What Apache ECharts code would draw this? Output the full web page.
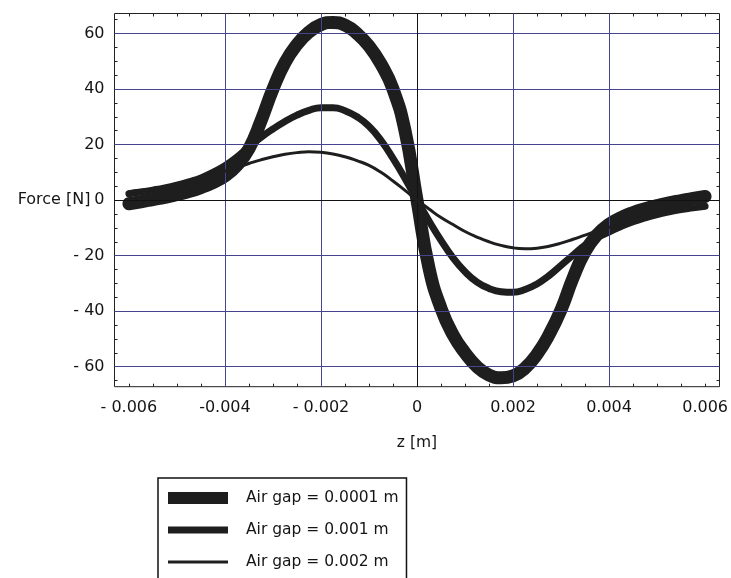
<!DOCTYPE html>
<html>
<head>
<meta charset="utf-8">
<script src="https://cdn.jsdelivr.net/npm/echarts@6/dist/echarts.min.js"></script>
<style>
html, body { margin: 0; padding: 0; background: #fff; }
#main { width: 731px; height: 578px; }
</style>
</head>
<body>
<div id="main"></div>
<script>
// z positions [m]
var zValues = [
  -0.006, -0.00575, -0.0055, -0.00525, -0.005, -0.00475, -0.0045, -0.00425,
  -0.004, -0.00375, -0.0035, -0.00325, -0.003, -0.00275, -0.0025, -0.00225,
  -0.002, -0.00175, -0.0015, -0.00125, -0.001, -0.00075, -0.0005, -0.00025,
  0,
  0.00025, 0.0005, 0.00075, 0.001, 0.00125, 0.0015, 0.00175, 0.002,
  0.00225, 0.0025, 0.00275, 0.003, 0.00325, 0.0035, 0.00375, 0.004,
  0.00425, 0.0045, 0.00475, 0.005, 0.00525, 0.0055, 0.00575, 0.006
];
// force [N], air gap 0.0001 m
var forceGap0001 = [
  -1.3, -0.6, 0.2, 1.0, 2.0, 3.1, 4.5, 6.3,
  8.7, 12.5, 18.5, 28.5, 40, 49.5, 56, 60.5,
  63.2, 64.0, 63.0, 60, 55.5, 49, 40, 25,
  0,
  -24.5, -39, -48.5, -55, -60, -63, -64.0, -63.3,
  -60.5, -55.5, -48.5, -39.5, -28, -18.5, -12.5, -8.7,
  -6.3, -4.5, -3.1, -2.0, -1.0, -0.2, 0.6, 1.3
];
// force [N], air gap 0.001 m
var forceGap001 = [
  2.3, 2.9, 3.6, 4.4, 5.4, 6.6, 8.0, 10.0,
  12.4, 15.5, 19.2, 22.6, 25.6, 28.3, 30.6, 32.3,
  33.3, 33.3, 32.2, 30.0, 26.6, 21.5, 15.0, 7.8,
  0,
  -7.5, -14.5, -20.8, -25.8, -29.5, -31.8, -33.0, -33.2,
  -32.2, -30.2, -27.2, -23.5, -19.8, -16.2, -13.5, -11.5,
  -9.5, -7.8, -6.4, -5.2, -4.2, -3.4, -2.8, -2.2
];
// force [N], air gap 0.002 m
var forceGap002 = [
  3.0, 3.5, 4.0, 4.7, 5.5, 6.5, 7.7, 9.0,
  10.4, 11.8, 13.2, 14.5, 15.6, 16.5, 17.1, 17.4,
  17.2, 16.6, 15.6, 14.2, 12.5, 10.0, 6.9, 3.5,
  0,
  -3.2, -6.3, -8.8, -11.3, -13.3, -15.0, -16.3, -17.2,
  -17.5, -17.3, -16.6, -15.5, -14.1, -12.6, -11.1, -9.8,
  -8.5, -7.3, -6.2, -5.3, -4.5, -3.8, -3.2, -2.7
];
var seriesNames = ['Air gap = 0.0001 m', 'Air gap = 0.001 m', 'Air gap = 0.002 m'];

var xTickValues = [-0.006, -0.004, -0.002, 0, 0.002, 0.004, 0.006];
var xTickLabels = ['- 0.006', '-0.004', '- 0.002', '0', '0.002', '0.004', '0.006'];
var xGridValues = [-0.004, -0.002, 0.002, 0.004];
var yTickValues = [-60, -40, -20, 0, 20, 40, 60];
var yTickLabels = ['- 60', '- 40', '- 20', '0', '20', '40', '60'];
var yGridValues = [-60, -40, -20, 20, 40, 60];

function pairs(ys) {
  var out = [];
  for (var i = 0; i < zValues.length; i++) out.push([zValues[i], ys[i]]);
  return out;
}
function pickLabel(values, labels, tol) {
  return function (v) {
    for (var i = 0; i < values.length; i++) {
      if (Math.abs(v - values[i]) < tol) return labels[i];
    }
    return '';
  };
}

var chart = echarts.init(document.getElementById('main'));
var font = 'DejaVu Sans';
var ink = '#1e1e1e';
var textColor = '#151515';
var gridColor = '#45458f';

// grid lines and the two zero axes, drawn as mark lines on the frame axes
var gridLines = [];
xGridValues.forEach(function (v) { gridLines.push({ xAxis: v }); });
yGridValues.forEach(function (v) { gridLines.push({ yAxis: v }); });
var zeroLines = [{ xAxis: 0 }, { yAxis: 0 }];

var tickStyle = { show: true, inside: true, length: 3, lineStyle: { color: '#222', width: 1 } };
var hidden = { show: false };

var option = {
  backgroundColor: '#fff',
  animation: false,
  grid: [
    // frame / data area
    { left: 114.5, right: 11.5, top: 13.5, bottom: 191.3, show: true, borderColor: '#222', borderWidth: 1 },
    // y ticks -65..65
    { left: 114.5, right: 11.5, top: 19.61, bottom: 197.41, show: false },
    // x ticks -0.006..0.006
    { left: 128.9, right: 25.9, top: 13.5, bottom: 191.3, show: false }
  ],
  xAxis: [
    { gridIndex: 0, type: 'value', min: -0.0063, max: 0.0063, show: false },
    { gridIndex: 1, type: 'value', min: 0, max: 1, show: false },
    {
      gridIndex: 2, type: 'value', min: -0.006, max: 0.006, interval: 0.0005,
      position: 'bottom',
      axisLine: hidden, axisTick: tickStyle, splitLine: hidden,
      axisLabel: {
        margin: 13, color: textColor, fontFamily: font, fontSize: 16,
        formatter: pickLabel(xTickValues, xTickLabels, 1e-7)
      },
      name: 'z [m]', nameLocation: 'middle', nameGap: 48, nameMoveOverlap: false,
      nameTextStyle: { color: textColor, fontFamily: font, fontSize: 15.5 }
    },
    {
      gridIndex: 2, type: 'value', min: -0.006, max: 0.006, interval: 0.0005,
      position: 'top',
      axisLine: hidden, axisTick: tickStyle, splitLine: hidden, axisLabel: hidden
    }
  ],
  yAxis: [
    { gridIndex: 0, type: 'value', min: -67.2, max: 67.2, show: false },
    {
      gridIndex: 1, type: 'value', min: -65, max: 65, interval: 5,
      position: 'left',
      axisLine: hidden, axisTick: tickStyle, splitLine: hidden,
      axisLabel: {
        margin: 10, color: textColor, fontFamily: font, fontSize: 16,
        formatter: pickLabel(yTickValues, yTickLabels, 1e-6)
      },
      name: 'Force [N]', nameLocation: 'middle', nameRotate: 0, nameGap: 24, nameMoveOverlap: false,
      nameTextStyle: { color: textColor, fontFamily: font, fontSize: 16, align: 'right', verticalAlign: 'middle' }
    },
    {
      gridIndex: 1, type: 'value', min: -65, max: 65, interval: 5,
      position: 'right',
      axisLine: hidden, axisTick: tickStyle, splitLine: hidden, axisLabel: hidden
    },
    { gridIndex: 2, type: 'value', min: 0, max: 1, show: false }
  ],
  legend: {
    orient: 'vertical',
    left: 158, top: 478, height: 140,
    padding: [12, 8, 30, 10],
    itemGap: 16,
    itemWidth: 60, itemHeight: 12,
    borderColor: '#111', borderWidth: 1.5,
    backgroundColor: '#fff',
    textStyle: { color: textColor, fontFamily: font, fontSize: 15.5, lineHeight: 16, padding: [0, 0, 0, 13] },
    data: [
      { name: seriesNames[0], icon: 'path://M0,0H60V12H0Z' },
      { name: seriesNames[1], icon: 'path://M0,0H60V7H0Z' },
      { name: seriesNames[2], icon: 'path://M0,0H60V3H0Z' }
    ]
  },
  series: [{
    type: 'line', data: [], z: 1, silent: true, xAxisIndex: 0, yAxisIndex: 0,
    markLine: {
      silent: true, symbol: 'none', label: { show: false }, animation: false, precision: 8,
      lineStyle: { color: gridColor, width: 1, type: 'solid' },
      data: gridLines
    }
  }, {
    type: 'line', data: [], z: 1, silent: true, xAxisIndex: 0, yAxisIndex: 0,
    markLine: {
      silent: true, symbol: 'none', label: { show: false }, animation: false, precision: 8,
      lineStyle: { color: '#111', width: 1, type: 'solid' },
      data: zeroLines
    }
  }, {
    name: seriesNames[0], type: 'line', data: pairs(forceGap0001), xAxisIndex: 0, yAxisIndex: 0,
    smooth: 0.5, showSymbol: false, symbol: 'none', clip: false, z: 3,
    color: ink, lineStyle: { color: ink, width: 13, cap: 'round', join: 'round' }
  }, {
    name: seriesNames[1], type: 'line', data: pairs(forceGap001), xAxisIndex: 0, yAxisIndex: 0,
    smooth: 0.5, showSymbol: false, symbol: 'none', clip: false, z: 4,
    color: ink, lineStyle: { color: ink, width: 7, cap: 'round', join: 'round' }
  }, {
    name: seriesNames[2], type: 'line', data: pairs(forceGap002), xAxisIndex: 0, yAxisIndex: 0,
    smooth: 0.5, showSymbol: false, symbol: 'none', clip: false, z: 5,
    color: ink, lineStyle: { color: ink, width: 3, cap: 'round', join: 'round' }
  }]
};
chart.setOption(option);
</script>
</body>
</html>
